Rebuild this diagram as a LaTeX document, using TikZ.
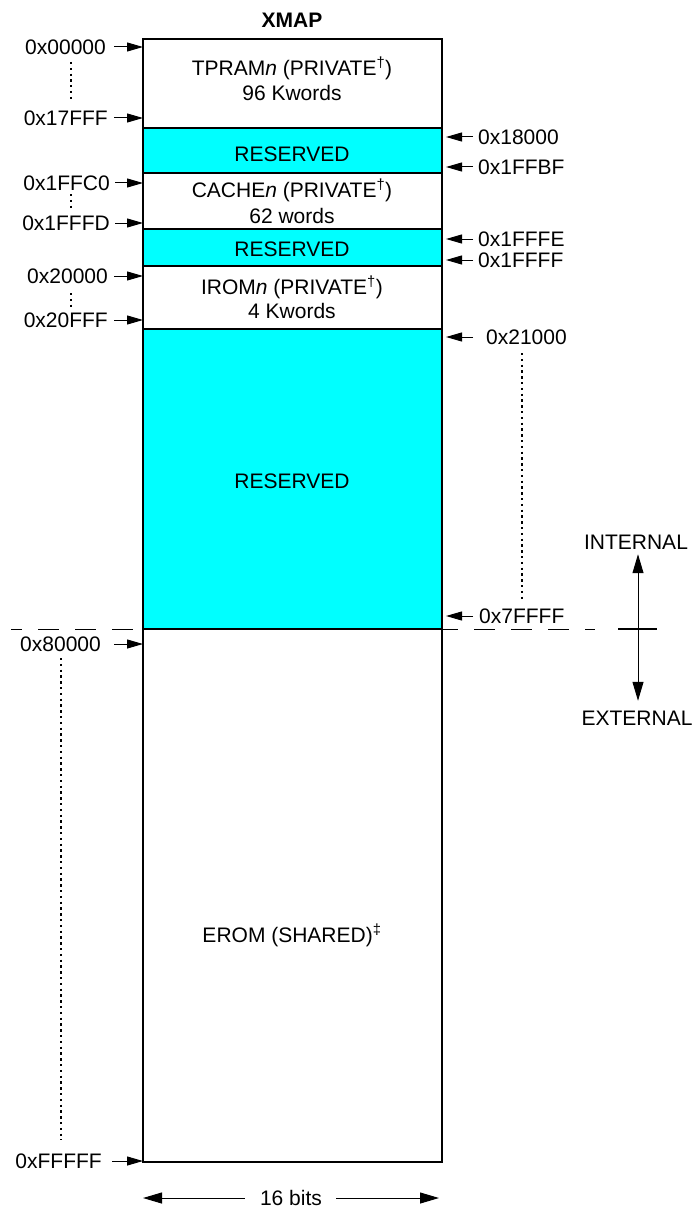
\documentclass[tikz,border=0pt]{standalone}
\usepackage{fontspec}
\setmainfont{Liberation Sans}
\usetikzlibrary{arrows.meta,calc}
\definecolor{resv}{HTML}{00FFFF}
\begin{document}
\begin{tikzpicture}[x=1pt,y=-1pt,
  every node/.style={font=\fontsize{21pt}{25pt}\selectfont},
  cell/.style={draw, line width=1.5pt, minimum width=299pt, inner sep=0pt, outer sep=0pt, anchor=north},
  rsv/.style={cell, fill=resv},
  lbl/.style={inner sep=0pt, text height=15pt, text depth=0pt},
  ptr/.style={line width=1pt, -{Triangle[length=16pt,width=9pt]}},
  bigptr/.style={line width=1pt, -{Triangle[length=19pt,width=11pt]}},
  dotline/.style={line width=2.3pt, dash pattern=on 2.3pt off 3.5pt},
  sepline/.style={line width=1pt, dash pattern=on 21pt off 16pt}
]
\useasboundingbox (0,0) rectangle (695,1209);

% memory regions
\node[cell, minimum height=89pt] (tpram) at (292.5,39) {};
\node[rsv, minimum height=45pt] (res1) at (292.5,128) {};
\node[cell, minimum height=56pt] (cache) at (292.5,173) {};
\node[rsv, minimum height=37pt] (res2) at (292.5,229) {};
\node[cell, minimum height=63pt] (irom) at (292.5,266) {};
\node[rsv, minimum height=300pt] (res3) at (292.5,329) {};
\node[cell, minimum height=533pt] (erom) at (292.5,629) {};

% title
\node[lbl, font=\fontsize{21pt}{25pt}\selectfont\bfseries] (title) at (292,20) {XMAP};

% region texts
\node[lbl] (t1a) at (292,68) {TPRAM\textit{n} (PRIVATE\textsuperscript{†})};
\node[lbl] (t1b) at (292,93) {96 Kwords};
\node[lbl] (t2) at (292,154) {RESERVED};
\node[lbl] (t3a) at (292,190) {CACHE\textit{n} (PRIVATE\textsuperscript{†})};
\node[lbl] (t3b) at (292,216) {62 words};
\node[lbl] (t4) at (292,249) {RESERVED};
\node[lbl] (t5a) at (292,287) {IROM\textit{n} (PRIVATE\textsuperscript{†})};
\node[lbl] (t5b) at (292,311) {4 Kwords};
\node[lbl] (t6) at (292,481) {RESERVED};
\node[lbl] (t7) at (292,935) {EROM (SHARED)\textsuperscript{‡}};

% left addresses
\node[lbl, anchor=east] (a0) at (106,47) {0x00000};
\node[lbl, anchor=east] (a1) at (108,118) {0x17FFF};
\node[lbl, anchor=east] (a2) at (110,183) {0x1FFC0};
\node[lbl, anchor=east] (a3) at (110,223) {0x1FFFD};
\node[lbl, anchor=east] (a4) at (108,276) {0x20000};
\node[lbl, anchor=east] (a5) at (108,320) {0x20FFF};
\node[lbl, anchor=east] (a6) at (101,644) {0x80000};
\node[lbl, anchor=east] (a7) at (102,1161) {0xFFFFF};

\draw[ptr] ([xshift=8pt]a0.east) -- (a0.east -| tpram.west);
\draw[ptr] ([xshift=6pt]a1.east) -- (a1.east -| tpram.west);
\draw[ptr] ([xshift=5pt]a2.east) -- (a2.east -| cache.west);
\draw[ptr] ([xshift=5pt]a3.east) -- (a3.east -| cache.west);
\draw[ptr] ([xshift=6pt]a4.east) -- (a4.east -| irom.west);
\draw[ptr] ([xshift=6pt]a5.east) -- (a5.east -| irom.west);
\draw[ptr] ([xshift=13pt]a6.east) -- (a6.east -| erom.west);
\draw[ptr] ([xshift=10pt]a7.east) -- (a7.east -| erom.west);

% right addresses
\node[lbl, anchor=west] (b0) at (478,137) {0x18000};
\node[lbl, anchor=west] (b1) at (478,167) {0x1FFBF};
\node[lbl, anchor=west] (b2) at (478,239) {0x1FFFE};
\node[lbl, anchor=west] (b3) at (478,260) {0x1FFFF};
\node[lbl, anchor=west] (b4) at (486,337) {0x21000};
\node[lbl, anchor=west] (b5) at (479,616) {0x7FFFF};

\draw[ptr] ($(b0.west)+(-5,0)$) -- ($(b0.west -| res1.east)+(4,0)$);
\draw[ptr] ($(b1.west)+(-5,0)$) -- ($(b1.west -| res1.east)+(4,0)$);
\draw[ptr] ($(b2.west)+(-5,0)$) -- ($(b2.west -| res2.east)+(4,0)$);
\draw[ptr] ($(b3.west)+(-5,0)$) -- ($(b3.west -| res2.east)+(4,0)$);
\draw[ptr] ($(b4.west)+(-13,0)$) -- ($(b4.west -| res3.east)+(4,0)$);
\draw[ptr] ($(b5.west)+(-6,0)$) -- ($(b5.west -| res3.east)+(4,0)$);

% dotted continuation marks
\draw[dotline] (71,62) -- (71,100);
\draw[dotline] (71,194) -- (71,210);
\draw[dotline] (71,293) -- (71,308);
\draw[dotline] (61,658) -- (61,1140);
\draw[dotline] (522,353) -- (522,600);

% internal / external boundary
\draw[sepline, dash phase=10pt] (11,629) -- (res3.south west);
\draw[sepline, dash phase=5pt] (res3.south east) -- (595,629);
\draw[line width=2pt] (618,629) -- (657,629);
\coordinate (ie) at (638,629);
\node[lbl] (int) at (636,542) {INTERNAL};
\node[lbl] (ext) at (637,718) {EXTERNAL};
\draw[bigptr] (ie) -- ($(ie |- int.south)+(0,4.5)$);
\draw[bigptr] (ie) -- ($(ie |- ext.north)+(0,-9.5)$);

% width
\node[lbl] (bits) at (291,1198) {16 bits};
\draw[bigptr] ([xshift=-15pt]bits.west) -- (bits.west -| erom.west);
\draw[bigptr] ([xshift=14pt]bits.east) -- ($(bits.east -| erom.east)+(-3,0)$);
\end{tikzpicture}
\end{document}
